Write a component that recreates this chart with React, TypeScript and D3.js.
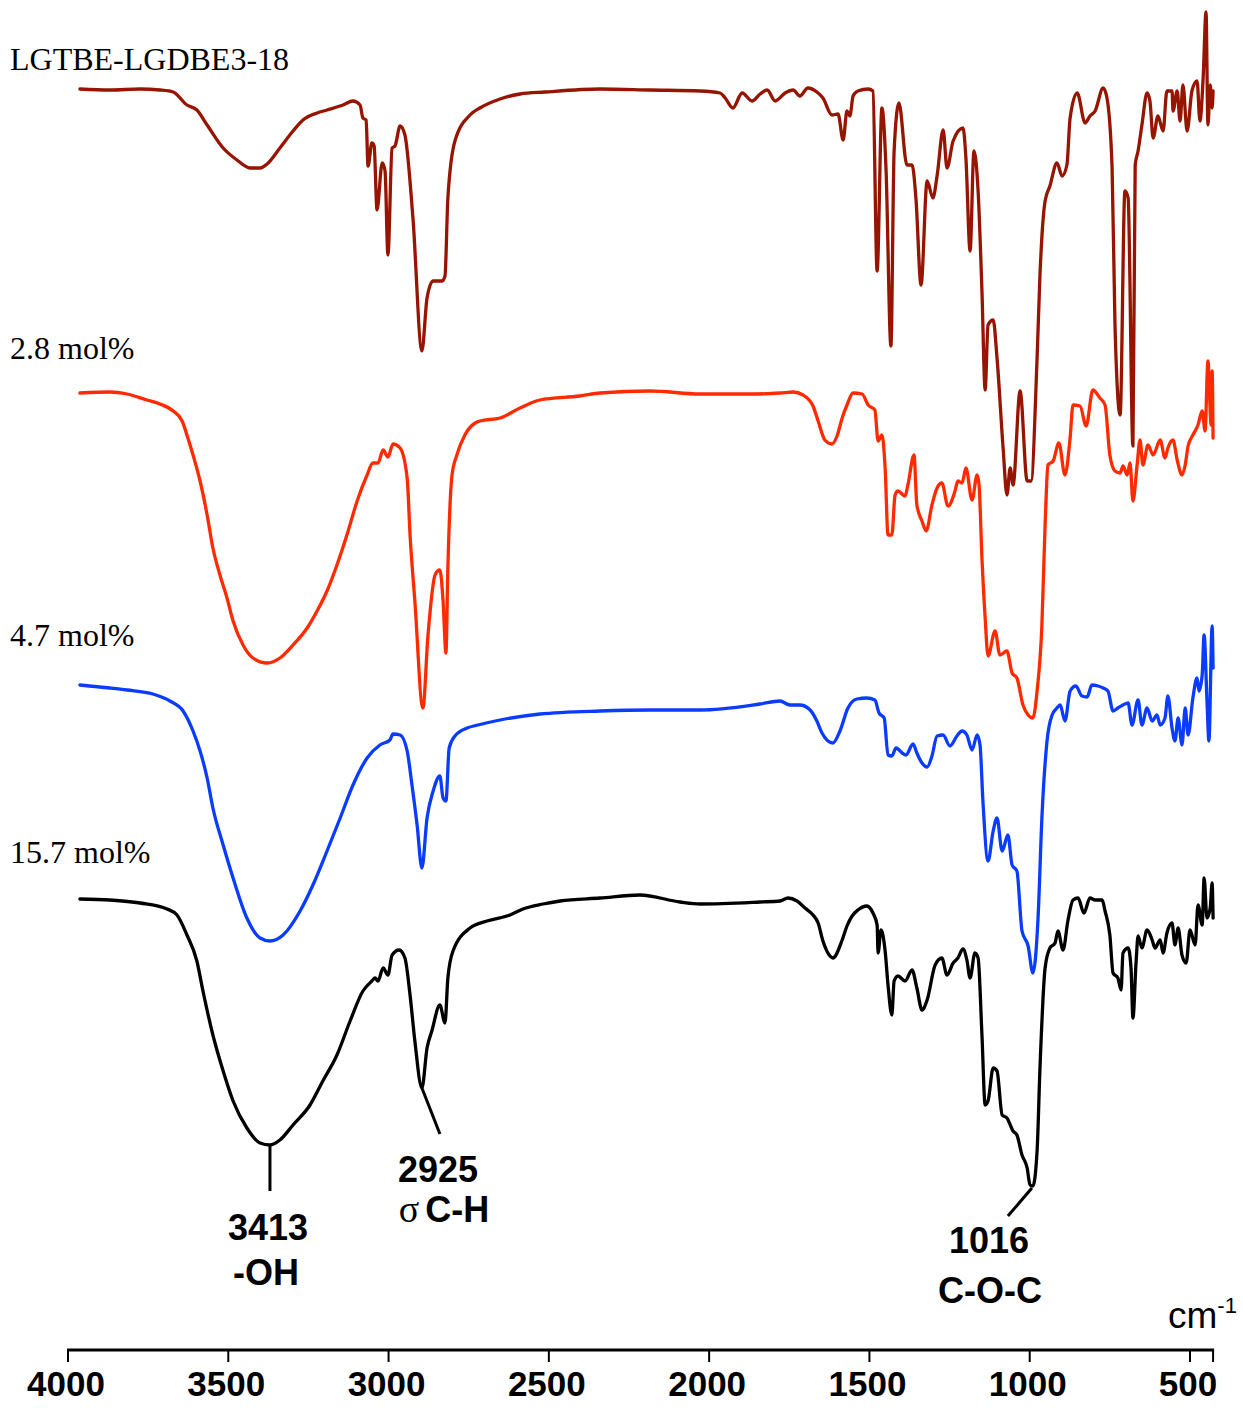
import React from "react";
import * as d3 from "d3";

// Wavenumber (cm-1) / stacked transmittance (a.u., offset per trace)
const seriesTop: [number, number][] = [
  [3963, 1261], [3869, 1260], [3775, 1261], [3713, 1260], [3672, 1258], [3629, 1245], [3598, 1240], [3566, 1225],
  [3516, 1202], [3473, 1190], [3432, 1182], [3401, 1182], [3379, 1186], [3339, 1202], [3298, 1219], [3267, 1230],
  [3223, 1237], [3192, 1240], [3142, 1245], [3111, 1249], [3089, 1245], [3080, 1232], [3070, 1230], [3064, 1184],
  [3052, 1207], [3045, 1204], [3036, 1140], [3020, 1187], [3011, 1179], [3002, 1095], [2989, 1202], [2980, 1204],
  [2964, 1224], [2949, 1215], [2924, 1132], [2896, 999], [2880, 1052], [2861, 1069], [2833, 1069], [2824, 1074],
  [2815, 1152], [2793, 1209], [2746, 1235], [2715, 1242], [2652, 1251], [2590, 1256], [2512, 1258], [2340, 1261],
  [2184, 1260], [2028, 1259], [1966, 1257], [1950, 1252], [1926, 1242], [1897, 1257], [1866, 1249], [1841, 1256],
  [1819, 1260], [1794, 1249], [1763, 1257], [1738, 1260], [1717, 1254], [1692, 1262], [1664, 1258], [1645, 1252],
  [1617, 1235], [1598, 1236], [1582, 1210], [1570, 1239], [1561, 1234], [1551, 1254], [1536, 1259], [1504, 1261],
  [1489, 1259], [1476, 1079], [1461, 1242], [1448, 1179], [1433, 1004], [1423, 1199], [1408, 1247], [1383, 1185],
  [1367, 1185], [1355, 1152], [1339, 1065], [1320, 1169], [1302, 1152], [1289, 1174], [1270, 1220], [1258, 1182],
  [1239, 1209], [1208, 1222], [1199, 1192], [1186, 1099], [1174, 1199], [1161, 1159], [1149, 1059], [1139, 960],
  [1130, 1025], [1114, 1030], [1102, 992], [1083, 902], [1071, 855], [1061, 882], [1052, 865], [1030, 959],
  [1008, 869], [996, 869], [977, 992], [968, 1075], [952, 1149], [937, 1164], [915, 1187], [899, 1174],
  [884, 1185], [874, 1232], [852, 1257], [827, 1227], [812, 1234], [796, 1239], [771, 1262], [759, 1252],
  [743, 1182], [734, 1025], [718, 935], [703, 1159], [693, 1152], [678, 904], [671, 1185], [662, 1199],
  [650, 1225], [634, 1257], [625, 1249], [615, 1212], [600, 1234], [584, 1219], [572, 1259], [556, 1259],
  [553, 1239], [540, 1259], [531, 1229], [522, 1265], [509, 1219], [494, 1259], [478, 1269], [469, 1229],
  [459, 1272], [450, 1338], [444, 1225], [437, 1265], [431, 1242], [428, 1259],
];

const series28: [number, number][] = [
  [3963, 957], [3869, 958], [3816, 956], [3754, 950], [3713, 946], [3672, 939], [3644, 929], [3626, 912],
  [3610, 895], [3588, 869], [3566, 835], [3548, 802], [3526, 775], [3504, 752], [3485, 729], [3454, 705],
  [3423, 692], [3379, 687], [3339, 692], [3298, 705], [3254, 722], [3223, 739], [3192, 759], [3161, 785],
  [3130, 815], [3098, 849], [3067, 875], [3049, 887], [3033, 887], [3017, 900], [3002, 893], [2986, 906],
  [2964, 902], [2942, 872], [2933, 815], [2918, 749], [2893, 642], [2877, 715], [2855, 775], [2840, 780],
  [2830, 749], [2821, 697], [2815, 782], [2802, 875], [2787, 895], [2762, 915], [2730, 927], [2715, 929],
  [2652, 932], [2590, 942], [2528, 950], [2403, 954], [2340, 957], [2184, 959], [2028, 956], [1872, 956],
  [1779, 957], [1738, 958], [1707, 955], [1676, 944], [1660, 929], [1639, 910], [1617, 906], [1601, 914],
  [1585, 932], [1570, 945], [1551, 957], [1523, 956], [1504, 945], [1483, 940], [1473, 909], [1461, 915],
  [1451, 882], [1442, 815], [1430, 815], [1420, 855], [1411, 859], [1389, 854], [1380, 865], [1361, 895],
  [1352, 845], [1336, 829], [1323, 819], [1305, 845], [1289, 862], [1274, 867], [1255, 844], [1233, 859],
  [1224, 869], [1211, 867], [1199, 882], [1180, 850], [1164, 875], [1158, 865], [1149, 792], [1139, 732],
  [1130, 694], [1108, 719], [1093, 695], [1071, 699], [1055, 677], [1040, 672], [1021, 645], [1005, 635],
  [990, 632], [977, 659], [962, 725], [952, 825], [943, 885], [927, 889], [909, 907], [890, 875],
  [874, 912], [865, 945], [843, 944], [824, 924], [803, 960], [781, 952], [765, 945], [750, 895],
  [734, 879], [718, 877], [709, 884], [696, 875], [687, 887], [678, 849], [665, 885], [656, 910],
  [647, 885], [631, 905], [615, 895], [593, 910], [578, 892], [569, 902], [553, 910], [540, 890],
  [525, 875], [515, 885], [506, 904], [491, 915], [475, 925], [462, 939], [453, 919], [444, 989],
  [434, 925], [431, 979], [428, 912],
];

const series47: [number, number][] = [
  [3963, 665], [3869, 662], [3816, 660], [3735, 656], [3682, 649], [3641, 639], [3610, 619], [3588, 599],
  [3566, 572], [3548, 542], [3516, 505], [3485, 472], [3442, 432], [3401, 412], [3370, 409], [3329, 415],
  [3276, 439], [3236, 465], [3192, 499], [3151, 532], [3111, 565], [3067, 592], [3027, 605], [2996, 610],
  [2986, 616], [2964, 615], [2942, 599], [2927, 565], [2911, 525], [2896, 482], [2880, 532], [2861, 559],
  [2840, 574], [2830, 552], [2821, 549], [2811, 602], [2793, 614], [2755, 622], [2721, 625], [2652, 630],
  [2528, 636], [2340, 639], [2184, 640], [2028, 640], [1841, 646], [1779, 649], [1748, 645], [1717, 645],
  [1685, 640], [1664, 629], [1648, 617], [1614, 607], [1592, 619], [1567, 642], [1539, 651], [1508, 652],
  [1483, 650], [1470, 637], [1454, 632], [1442, 595], [1430, 594], [1417, 602], [1398, 597], [1386, 595],
  [1364, 606], [1352, 597], [1336, 587], [1320, 583], [1305, 594], [1289, 614], [1270, 615], [1249, 604],
  [1227, 614], [1211, 619], [1196, 615], [1180, 600], [1164, 615], [1155, 605], [1146, 549], [1130, 489],
  [1114, 519], [1102, 532], [1086, 499], [1068, 515], [1055, 485], [1040, 479], [1024, 419], [1005, 404],
  [990, 377], [974, 432], [962, 532], [946, 609], [930, 635], [915, 642], [905, 645], [890, 629],
  [874, 659], [856, 664], [837, 654], [821, 653], [806, 665], [787, 664], [771, 662], [756, 659],
  [740, 639], [725, 642], [709, 645], [693, 647], [681, 625], [662, 650], [650, 625], [634, 642],
  [618, 629], [603, 635], [593, 625], [578, 632], [569, 654], [556, 622], [547, 609], [537, 632],
  [525, 605], [515, 642], [506, 615], [491, 652], [478, 672], [472, 659], [462, 675], [456, 715],
  [447, 649], [441, 609], [431, 724], [428, 682],
];

const series157: [number, number][] = [
  [3963, 451], [3869, 450], [3775, 447], [3691, 441], [3660, 435], [3629, 415], [3598, 389], [3579, 359],
  [3548, 315], [3516, 279], [3485, 249], [3442, 222], [3401, 207], [3370, 205], [3339, 210], [3298, 225],
  [3245, 245], [3205, 269], [3161, 295], [3120, 329], [3080, 359], [3052, 369], [3042, 372], [3033, 369],
  [3017, 382], [3002, 375], [2989, 395], [2967, 400], [2949, 392], [2933, 355], [2918, 309], [2896, 262],
  [2880, 302], [2865, 319], [2840, 345], [2824, 327], [2815, 372], [2799, 399], [2746, 422], [2693, 429],
  [2621, 435], [2581, 441], [2518, 446], [2465, 449], [2340, 452], [2216, 455], [2091, 448], [2028, 446],
  [1841, 448], [1779, 449], [1754, 452], [1726, 449], [1701, 442], [1676, 435], [1660, 427], [1645, 409],
  [1623, 394], [1614, 392], [1585, 410], [1570, 424], [1554, 434], [1536, 440], [1508, 444], [1489, 437],
  [1476, 425], [1473, 397], [1464, 420], [1451, 399], [1442, 365], [1430, 335], [1423, 369], [1411, 374],
  [1389, 369], [1367, 380], [1352, 362], [1336, 340], [1320, 350], [1295, 385], [1274, 392], [1258, 375],
  [1239, 387], [1224, 392], [1208, 401], [1196, 390], [1186, 372], [1171, 397], [1161, 392], [1149, 315],
  [1139, 245], [1130, 249], [1114, 282], [1102, 279], [1086, 235], [1071, 232], [1052, 219], [1040, 215],
  [1024, 195], [1008, 182], [999, 165], [990, 164], [977, 199], [968, 282], [952, 382], [937, 402],
  [921, 407], [912, 419], [896, 400], [881, 429], [865, 450], [849, 452], [831, 437], [812, 452],
  [796, 450], [774, 450], [765, 439], [750, 415], [740, 377], [725, 372], [715, 360], [709, 397],
  [693, 402], [684, 382], [678, 332], [668, 389], [662, 414], [650, 402], [634, 420], [618, 410],
  [609, 402], [593, 410], [584, 397], [572, 417], [556, 427], [547, 405], [537, 422], [525, 395],
  [512, 387], [500, 420], [484, 405], [475, 445], [462, 425], [456, 472], [447, 432], [437, 442],
  [431, 467], [428, 432],
];

const seriesNames = ["LGTBE-LGDBE3-18", "2.8 mol%", "4.7 mol%", "15.7 mol%"];
const seriesColors = ["#961400", "#FF2A00", "#0A3CFF", "#000000"];
const seriesLabelValues = [1281, 992, 705, 488];

const xTicks = [4000, 3500, 3000, 2500, 2000, 1500, 1000, 500];
const xEnd = 428;

// annotations: leader anchor (wavenumber, value) and label lines
const annWave = [3370, 2896, 990];
const annValue = [205, 262, 164];
const annLine1 = ["3413", "2925", "1016"];
const annLine2 = ["-OH", "C-H", "C-O-C"];

export default function App() {
  const W = 1243;
  const H = 1408;
  const x = d3.scaleLinear().domain([4000, 500]).range([68, 1190]);
  const y = d3.scaleLinear().domain([0, 1340]).range([1350, 10]);
  const line = d3
    .line<[number, number]>()
    .x((d) => x(d[0]))
    .y((d) => y(d[1]))
    .curve(d3.curveMonotoneX);

  const allSeries = [seriesTop, series28, series47, series157];
  const axisY = y(0);
  const sans = "'Liberation Sans', Arial, sans-serif";
  const serif = "'Liberation Serif', 'Times New Roman', serif";

  const a0 = { x1: x(annWave[0]), y1: y(annValue[0]), x2: x(annWave[0]), y2: y(annValue[0]) + 46 };
  const a1 = { x1: x(annWave[1]), y1: y(annValue[1]), x2: x(annWave[1]) + 18, y2: y(annValue[1]) + 46 };
  const a2 = { x1: x(annWave[2]) - 1, y1: y(annValue[2]) + 2, x2: x(annWave[2]) - 25, y2: y(annValue[2]) + 30 };

  return (
    <svg
      width={W}
      height={H}
      style={{ position: "absolute", left: 0, top: 0, background: "#fff" }}
      xmlns="http://www.w3.org/2000/svg"
    >
      <rect x={0} y={0} width={W} height={H} fill="#fff" />
      {allSeries.map((s, i) => (
        <path
          key={i}
          d={line(s) || ""}
          fill="none"
          stroke={seriesColors[i]}
          strokeWidth={3.3}
          strokeLinejoin="round"
          strokeLinecap="round"
        />
      ))}
      {seriesNames.map((n, i) => (
        <text key={n} x={10} y={y(seriesLabelValues[i]) + 1} fontFamily={serif} fontSize={32} fill="#000">
          {n}
        </text>
      ))}

      {/* axis */}
      <line x1={x(4000) - 1} x2={x(xEnd) + 1} y1={axisY} y2={axisY} stroke="#000" strokeWidth={3} />
      {[...xTicks, xEnd].map((t) => (
        <line key={t} x1={x(t)} x2={x(t)} y1={axisY} y2={axisY + 12} stroke="#000" strokeWidth={2} />
      ))}
      {xTicks.map((t) => (
        <text
          key={"l" + t}
          x={x(t) - 2}
          y={1396}
          textAnchor="middle"
          fontFamily={sans}
          fontWeight="bold"
          fontSize={35}
          fill="#000"
        >
          {t}
        </text>
      ))}
      <text x={1168} y={1328} fontFamily={sans} fontSize={37} fill="#000">
        cm
        <tspan fontSize={22} dy={-15}>
          -1
        </tspan>
      </text>

      {/* annotations */}
      <line {...a0} stroke="#000" strokeWidth={3} />
      <line {...a1} stroke="#000" strokeWidth={3} />
      <line {...a2} stroke="#000" strokeWidth={3} />
      <g fontFamily={sans} fontWeight="bold" fontSize={36} fill="#000" textAnchor="middle">
        <text x={268} y={1240}>{annLine1[0]}</text>
        <text x={266} y={1285}>{annLine2[0]}</text>
        <text x={438} y={1182}>{annLine1[1]}</text>
        <text x={444} y={1222}>
          <tspan fontFamily={serif} fontWeight="normal" fontSize={38}>σ</tspan>
          <tspan dx={6}>{annLine2[1]}</tspan>
        </text>
        <text x={989} y={1253}>{annLine1[2]}</text>
        <text x={990} y={1303}>{annLine2[2]}</text>
      </g>
    </svg>
  );
}
